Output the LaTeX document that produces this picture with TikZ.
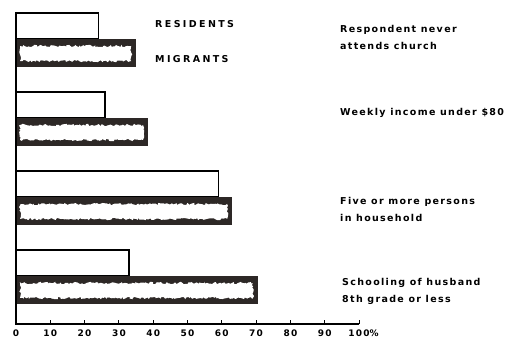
\documentclass[tikz,border=0pt]{standalone}
\usepackage{fontspec}
\usetikzlibrary{decorations.pathmorphing}
\newfontfamily\chartfont{DejaVu Sans}[LetterSpace=14]
\newfontfamily\keyfont{DejaVu Sans}[LetterSpace=25]
\definecolor{barDark}{RGB}{45,40,38}

\tikzset{
    resbar/.style={draw=black, line width=1.4pt},
    migbar/.style={fill=barDark},
    migfill/.style={fill=white, decorate, decoration={random steps, segment length=1.6pt, amplitude=1.2pt}},
    keylabel/.style={anchor=west, inner sep=0pt, font=\keyfont\bfseries\fontsize{9.5}{10}\selectfont},
    catlabel/.style={anchor=west, inner sep=0pt, align=left, font=\chartfont\bfseries\fontsize{9.5}{17}\selectfont},
    ticklabel/.style={anchor=base, inner sep=0pt, font=\chartfont\bfseries\fontsize{9}{9}\selectfont}
}

\begin{document}
\begin{tikzpicture}[x=1pt, y=1pt]
    \pgfmathsetseed{11}
    \newcommand\xzero{16}
    \newcommand\yzero{13}
    \newcommand\pctw{3.43}
    \newcommand\resh{26}
    \newcommand\migh{54}

    \useasboundingbox (0,0) rectangle (526,337);

    % group 1: church
    \newcommand\ga{324}
    \draw[resbar] (\xzero,\ga) rectangle (\xzero+24*\pctw,\ga-\resh);
    \fill[migbar] (\xzero,\ga-\resh) rectangle (\xzero+35*\pctw,\ga-\migh);
    \fill[migfill] (\xzero+4,\ga-\resh-7) rectangle (\xzero+35*\pctw-5,\ga-\migh+6);

    % group 2: income
    \newcommand\gb{245}
    \draw[resbar] (\xzero,\gb) rectangle (\xzero+26*\pctw,\gb-\resh);
    \fill[migbar] (\xzero,\gb-\resh) rectangle (\xzero+38.5*\pctw,\gb-\migh);
    \fill[migfill] (\xzero+4,\gb-\resh-7) rectangle (\xzero+38.5*\pctw-5,\gb-\migh+6);

    % group 3: household
    \newcommand\gc{166}
    \draw[resbar] (\xzero,\gc) rectangle (\xzero+59*\pctw,\gc-\resh);
    \fill[migbar] (\xzero,\gc-\resh) rectangle (\xzero+63*\pctw,\gc-\migh);
    \fill[migfill] (\xzero+4,\gc-\resh-7) rectangle (\xzero+63*\pctw-5,\gc-\migh+6);

    % group 4: schooling
    \newcommand\gd{87}
    \draw[resbar] (\xzero,\gd) rectangle (\xzero+33*\pctw,\gd-\resh);
    \fill[migbar] (\xzero,\gd-\resh) rectangle (\xzero+70.5*\pctw,\gd-\migh);
    \fill[migfill] (\xzero+4,\gd-\resh-7) rectangle (\xzero+70.5*\pctw-5,\gd-\migh+6);

    % axes
    \draw[line width=1.4pt] (\xzero,325) -- (\xzero,\yzero) -- (\xzero+100*\pctw,\yzero);
    \foreach \v in {10,20,...,100}
        \draw[line width=1pt] (\xzero+\v*\pctw,\yzero) -- (\xzero+\v*\pctw,\yzero+4);
    \foreach \v in {0,10,...,90}
        \node[ticklabel] (t\v) at (\xzero+\v*\pctw,1) {\v};
    \node[ticklabel] (t100) at (\xzero+100*\pctw,1) {100\makebox[0pt][l]{\%}};

    % key
    \node[keylabel] (residents) at (155,313) {RESIDENTS};
    \node[keylabel] (migrants) at (155,278) {MIGRANTS};

    % categories
    \node[catlabel] (church) at (340,300) {Respondent never\\attends church};
    \node[catlabel] (income) at (340,224) {Weekly income under \$80};
    \node[catlabel] (household) at (340,128) {Five or more persons\\in household};
    \node[catlabel] (schooling) at (342,46) {Schooling of husband\\8th grade or less};
\end{tikzpicture}
\end{document}
